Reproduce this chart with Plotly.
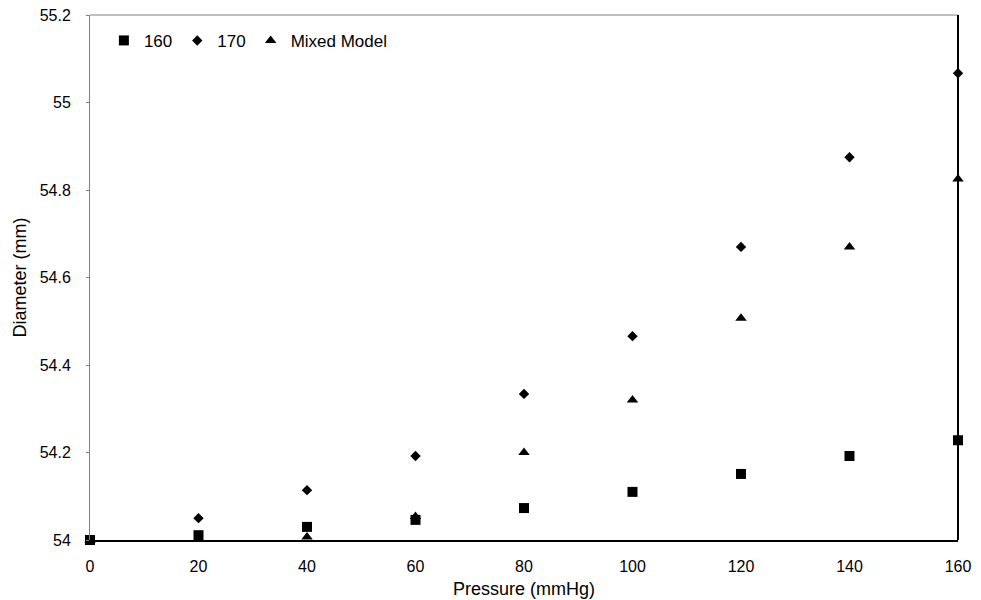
import plotly.graph_objects as go

pressure = [0, 20, 40, 60, 80, 100, 120, 140, 160]
d160 = [54.0, 54.011, 54.030, 54.046, 54.073, 54.110, 54.151, 54.192, 54.228]
d170 = [54.0, 54.050, 54.114, 54.192, 54.334, 54.466, 54.670, 54.875, 55.067]
mixed = [54.0, 54.002, 54.007, 54.054, 54.200, 54.320, 54.507, 54.670, 54.825]

x_ticks = [0, 20, 40, 60, 80, 100, 120, 140, 160]
y_ticks = [54, 54.2, 54.4, 54.6, 54.8, 55, 55.2]

fam = "Liberation Sans, Arial, sans-serif"
tick_font = dict(family=fam, size=16, color="#000000")
title_font = dict(family=fam, size=18, color="#000000")
legend_font = dict(family=fam, size=17, color="#000000")

fig = go.Figure()
fig.add_trace(go.Scatter(x=pressure, y=d160, mode="markers", name="160",
                         marker=dict(symbol="square", size=10, color="#000000"), cliponaxis=False))
fig.add_trace(go.Scatter(x=pressure, y=d170, mode="markers", name="170",
                         marker=dict(symbol="diamond", size=8, color="#000000"), cliponaxis=False))
fig.add_trace(go.Scatter(x=pressure, y=mixed, mode="markers", name="Mixed Model",
                         marker=dict(symbol="triangle-up", size=10, color="#000000"), cliponaxis=False))

# top (grey) and right (black) frame lines
fig.add_shape(type="line", xref="x domain", yref="y domain", x0=0, x1=1, y0=1, y1=1,
              line=dict(color="#808080", width=1))
fig.add_shape(type="line", xref="x domain", yref="y domain", x0=1, x1=1, y0=0, y1=1,
              line=dict(color="#000000", width=2))

fig.update_layout(
    width=981, height=600,
    margin=dict(l=90, r=23, t=15, b=60),
    paper_bgcolor="white", plot_bgcolor="white",
    font=tick_font,
    showlegend=True,
    legend=dict(orientation="h", x=0.016, y=0.985, xanchor="left", yanchor="top",
                bgcolor="rgba(0,0,0,0)", font=legend_font, itemwidth=30,
                tracegroupgap=0),
    xaxis=dict(range=[0, 160], tickvals=x_ticks, showgrid=False, zeroline=False,
               showline=True, linecolor="#000000", linewidth=2,
               ticks="", ticklabelstandoff=11, automargin=False,
               title=dict(text="Pressure (mmHg)", font=title_font, standoff=8),
               tickfont=tick_font),
    yaxis=dict(range=[54, 55.2], tickvals=y_ticks, showgrid=False, zeroline=False,
               showline=True, linecolor="#808080", linewidth=1,
               ticks="outside", ticklen=3, tickcolor="#808080",
               ticklabelstandoff=12, automargin=False,
               title=dict(text="Diameter (mm)", font=title_font, standoff=8),
               tickfont=tick_font),
)

fig.write_html("out.html")
